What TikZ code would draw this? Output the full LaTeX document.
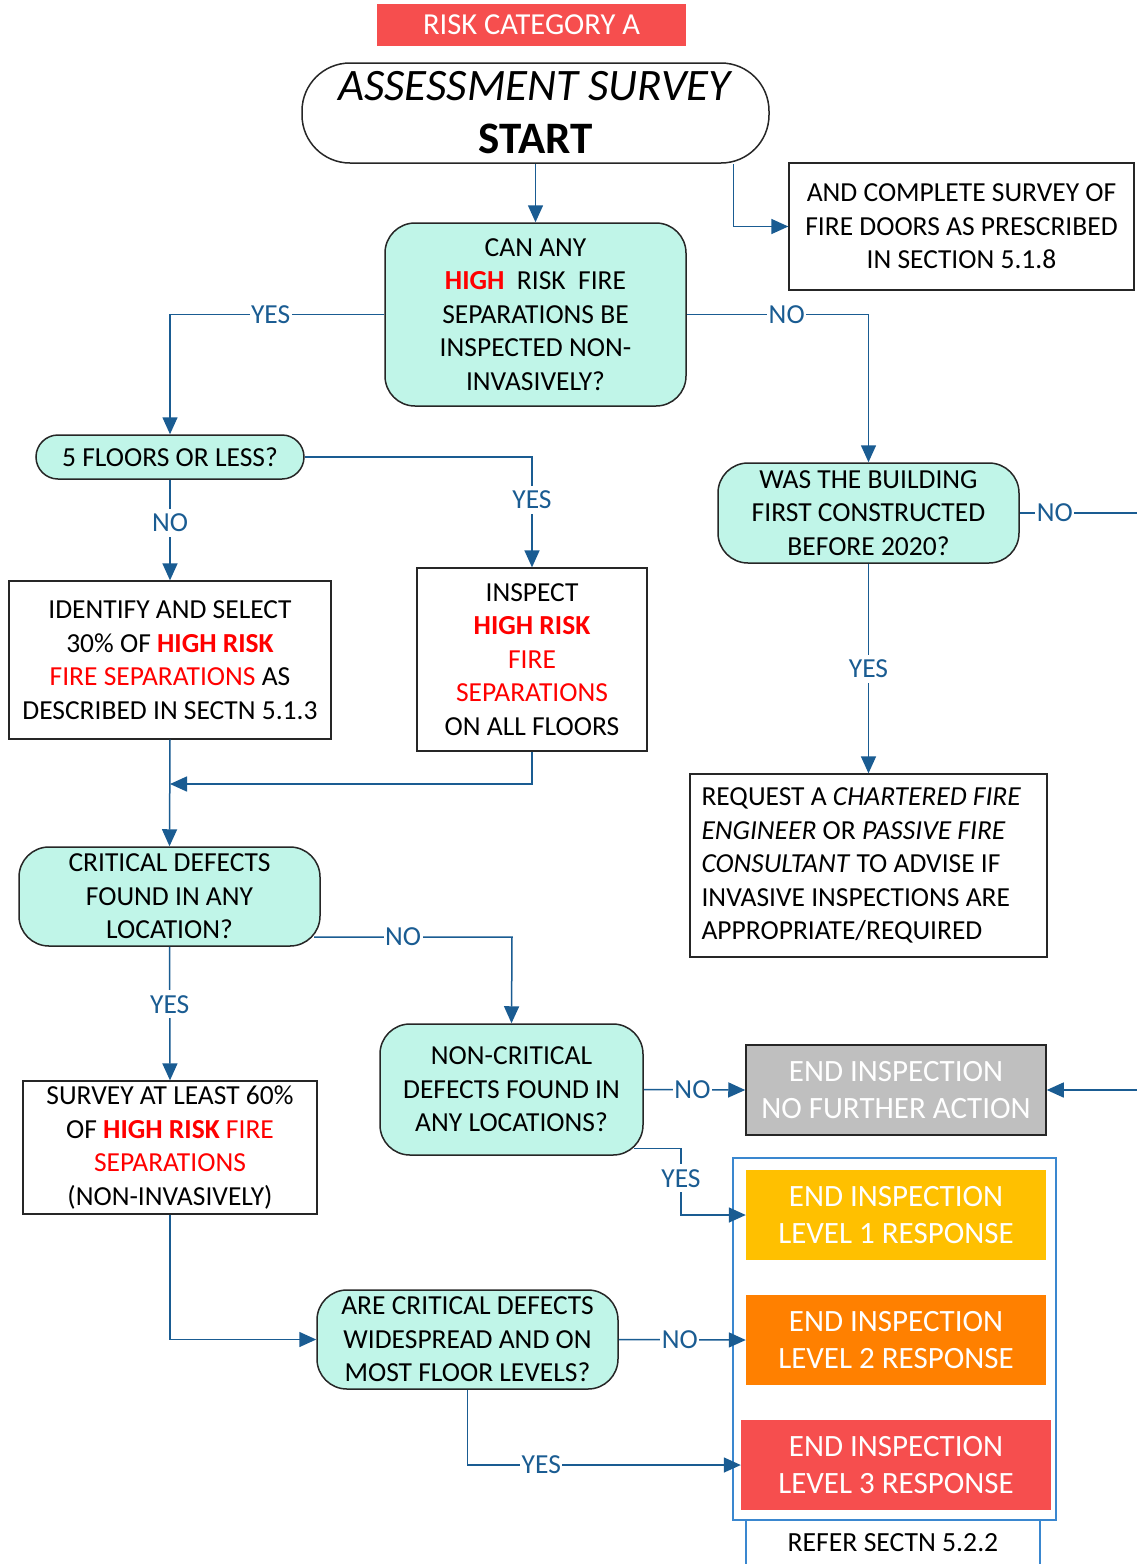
\documentclass[tikz,border=0pt]{standalone}
\usepackage{fontspec}
\setmainfont{Carlito}
\usetikzlibrary{arrows.meta,positioning}
\definecolor{lineblue}{HTML}{1A5C92}
\definecolor{contblue}{HTML}{3A87CF}
\definecolor{tealfill}{HTML}{C0F5E8}
\definecolor{boxline}{HTML}{262626}
\definecolor{redbox}{HTML}{F64E4E}
\definecolor{yellowbox}{HTML}{FFC000}
\definecolor{orangebox}{HTML}{FF8000}
\definecolor{graybox}{HTML}{BFBFBF}
\definecolor{redtxt}{HTML}{FF0000}
\newcommand{\hr}[1]{\textcolor{redtxt}{\textbf{#1}}}
\newcommand{\rr}[1]{\textcolor{redtxt}{#1}}
\tikzset{
  base/.style={inner sep=0pt, align=center, font=\fontsize{27.5}{33.5}\selectfont, text=black},
  question/.style={base, draw=boxline, line width=1.5pt, fill=tealfill, rounded corners=30pt},
  plainbox/.style={base, draw=boxline, line width=1.3pt, fill=white},
  endbox/.style={base, text=white, font=\fontsize{31}{37}\selectfont},
  conn/.style={draw=lineblue, line width=1.5pt, -{Triangle[length=17pt,width=15pt]}},
  lbl/.style={fill=white, inner xsep=1.5pt, inner ysep=5pt, text=lineblue, font=\fontsize{27.5}{30}\selectfont},
}
\begin{document}
\begin{tikzpicture}[x=1pt,y=-1pt]
\useasboundingbox (0,0) rectangle (1137,1564);
\fill[white] (0,0) rectangle (1137,1564);

% title
\node[base, fill=redbox, text=white, minimum width=309pt, minimum height=42pt, font=\fontsize{30.5}{32}\selectfont] (catA) at (531.5,25) {RISK CATEGORY A};
\node[base, draw=boxline, line width=1.5pt, fill=white, rounded corners=48pt, minimum width=467pt, minimum height=100pt, font=\fontsize{45}{53}\selectfont] (start) at (535.5,113) {\textit{ASSESSMENT SURVEY}\\\textbf{START}};
\node[plainbox, minimum width=345pt, minimum height=127pt] (doors) at (961.5,226.5) {AND COMPLETE SURVEY OF\\FIRE DOORS AS PRESCRIBED\\IN SECTION 5.1.8};

\node[question, minimum width=301pt, minimum height=183pt] (q1) at (535.5,314.5) {CAN ANY\\\hr{HIGH}\ \ RISK\ \ FIRE\\SEPARATIONS BE\\INSPECTED NON-\\INVASIVELY?};

\node[question, rounded corners=22pt, minimum width=268pt, minimum height=44pt] (q2) at (170,457) {5 FLOORS OR LESS?};
\node[plainbox, minimum width=322pt, minimum height=158pt] (box1) at (170,660) {IDENTIFY AND SELECT\\30\% OF \hr{HIGH RISK}\\\rr{FIRE SEPARATIONS} AS\\DESCRIBED IN SECTN 5.1.3};
\node[plainbox, minimum width=230pt, minimum height=183pt] (box2) at (532,659.5) {INSPECT\\\hr{HIGH RISK}\\\rr{FIRE}\\\rr{SEPARATIONS}\\ON ALL FLOORS};

\node[question, minimum width=301pt, minimum height=100pt] (q3) at (868.5,513) {WAS THE BUILDING\\FIRST CONSTRUCTED\\BEFORE 2020?};
\node[plainbox, minimum width=357pt, minimum height=183pt] (box4) at (868.5,865.5) {};
\node[base, align=left, anchor=west] (box4t) at ([xshift=12pt]box4.west) {REQUEST A \textit{CHARTERED FIRE}\\\textit{ENGINEER} OR \textit{PASSIVE FIRE}\\\textit{CONSULTANT} TO ADVISE IF\\INVASIVE INSPECTIONS ARE\\APPROPRIATE/REQUIRED};

\node[question, minimum width=301pt, minimum height=99pt] (q4) at (169.5,896.5) {CRITICAL DEFECTS\\FOUND IN ANY\\LOCATION?};
\node[question, minimum width=263pt, minimum height=131pt] (q5) at (511.5,1089.5) {NON-CRITICAL\\DEFECTS FOUND IN\\ANY LOCATIONS?};
\node[plainbox, minimum width=294pt, minimum height=133pt] (box3) at (170,1147.5) {SURVEY AT LEAST 60\%\\OF \hr{HIGH RISK} \rr{FIRE}\\\rr{SEPARATIONS}\\(NON-INVASIVELY)};
\node[question, minimum width=301pt, minimum height=99pt] (q6) at (467.5,1339.5) {ARE CRITICAL DEFECTS\\WIDESPREAD AND ON\\MOST FLOOR LEVELS?};

% end boxes
\node[endbox, fill=graybox, draw=boxline, line width=1.5pt, minimum width=300pt, minimum height=90pt] (nfa) at (896,1090) {END INSPECTION\\NO FURTHER ACTION};
\draw[contblue, line width=1.3pt] (746,1520) -- (746,1580) (1040,1520) -- (1040,1580);
\node[base, font=\fontsize{27.7}{30}\selectfont] (refer) at (893,1543) {REFER SECTN 5.2.2};
\draw[contblue, line width=1.3pt, fill=white] (733,1158) rectangle (1056,1520);
\node[endbox, fill=yellowbox, minimum width=300pt, minimum height=90pt] (l1) at (896,1215) {END INSPECTION\\LEVEL 1 RESPONSE};
\node[endbox, fill=orangebox, minimum width=300pt, minimum height=90pt] (l2) at (896,1340) {END INSPECTION\\LEVEL 2 RESPONSE};
\node[endbox, fill=redbox, minimum width=310pt, minimum height=90pt] (l3) at (896,1465) {END INSPECTION\\LEVEL 3 RESPONSE};

% connectors
\draw[conn] (start.south) -- (q1.north);
\draw[conn] ([xshift=198pt]start.south) |- (doors.west);
\draw[conn] (q1.west) -- node[lbl, pos=0.53]{YES} (170,314.5) -- (q2.north);
\draw[conn] (q1.east) -- node[lbl, pos=0.55]{NO} (868.5,314.5) -- (q3.north);
\draw[conn] (q2.south) -- node[lbl, pos=0.43]{NO} (box1.north);
\draw[conn] (q2.east) -- (532,457) -- node[lbl, pos=0.39]{YES} (box2.north);
\coordinate (merge) at (170,784);
\draw[conn] (box2.south) |- (merge);
\draw[conn] (box1.south) -- (q4.north);
\draw[conn] (q3.south) -- node[lbl, pos=0.5]{YES} (box4.north);
\draw[conn] (q3.east) -- node[lbl, pos=0.25]{NO} (1160,513) |- (nfa.east);
\draw[conn] (q4.south) -- node[lbl, pos=0.43]{YES} (box3.north);
\draw[conn] (314,937) -- node[lbl, pos=0.45]{NO} (512,937) -- (q5.north);
\draw[conn] (q5.east) -- node[lbl, pos=0.48]{NO} (nfa.west);
\draw[conn] (634,1148.5) -- (681,1148.5) -- node[lbl, pos=0.45]{YES} (681,1215) -- (l1.west);
\draw[conn] (box3.south) |- (q6.west);
\draw[conn] (q6.east) -- node[lbl, pos=0.48]{NO} (l2.west);
\draw[conn] (q6.south) -- (467.5,1465) -- node[lbl, pos=0.27]{YES} (l3.west);
\end{tikzpicture}
\end{document}
